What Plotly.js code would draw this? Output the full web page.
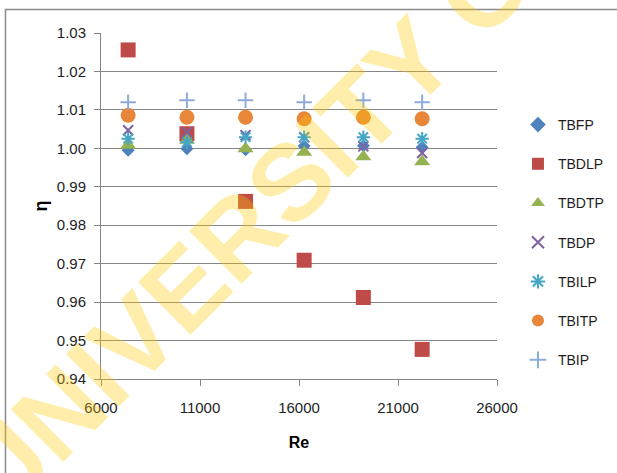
<!DOCTYPE html>
<html>
<head>
<meta charset="utf-8">
<script src="https://cdn.plot.ly/plotly-3.0.1.min.js"></script>
<style>
  html, body { margin: 0; padding: 0; background: #fff; overflow: hidden; }
  #wrap { position: relative; width: 617px; height: 473px; overflow: hidden; }
  #chart { width: 617px; height: 473px; }
  #stamp {
    position: absolute; left: -23px; top: 442px;
    font: bold 108px "Liberation Sans", Arial, sans-serif;
    line-height: 108px; white-space: nowrap;
    color: rgba(255, 204, 0, 0.33);
    transform-origin: 0 50%; transform: rotate(-45deg);
    pointer-events: none;
  }
</style>
</head>
<body>
<div id="wrap">
  <div id="chart"></div>
  <div id="stamp">UNIVERSITY OF</div>
</div>
<script>
// Reynolds numbers of the test runs
const Re = [7370, 10340, 13300, 16260, 19250, 22220];

// Efficiency index η for each insert configuration
const TBFP  = [0.9995, 0.9999, 0.9996, 1.0006, 1.0007, 1.0003];
const TBDLP = [1.0256, 1.0038, 0.9862, 0.9709, 0.9612, 0.9477];
const TBDTP = [1.0008, 1.0021, 0.9999, 0.9990, 0.9978, 0.9965];
const TBDP  = [1.0047, 1.0042, 1.0034, 1.0029, 1.0005, 0.9988];
const TBILP = [1.0025, 1.0016, 1.0029, 1.0029, 1.0029, 1.0025];
const TBITP = [1.0086, 1.0081, 1.0081, 1.0077, 1.0081, 1.0077];
const TBIP  = [1.0120, 1.0125, 1.0125, 1.0120, 1.0125, 1.0120];

const xTicks = [6000, 11000, 16000, 21000, 26000];
const yTicks = [0.94, 0.95, 0.96, 0.97, 0.98, 0.99, 1.00, 1.01, 1.02, 1.03];

const FONT = '"Liberation Sans", Arial, sans-serif';

const series = [
  { name: 'TBFP',  y: TBFP,  symbol: 'diamond',         size: 10, color: '#4F81BD' },
  { name: 'TBDLP', y: TBDLP, symbol: 'square',          size: 15, color: '#BE4B48' },
  { name: 'TBDTP', y: TBDTP, symbol: 'triangle-up',     size: 14, color: '#94B24F' },
  { name: 'TBDP',  y: TBDP,  symbol: 'x-thin-open',     size: 10, color: '#7F62A1', lw: 2 },
  { name: 'TBILP', y: TBILP, symbol: 'asterisk-open',   size: 11, color: '#44A6C4', lw: 2 },
  { name: 'TBITP', y: TBITP, symbol: 'circle',          size: 15, color: '#E8873A' },
  { name: 'TBIP',  y: TBIP,  symbol: 'cross-thin-open', size: 11, color: '#8EABD9', lw: 2 }
];

const traces = series.map(s => ({
  type: 'scatter',
  mode: 'markers',
  name: s.name,
  legendgroup: s.name,
  x: Re,
  y: s.y,
  marker: {
    symbol: s.symbol,
    size: s.size,
    color: s.color,
    line: s.lw ? { color: s.color, width: s.lw } : { width: 0 }
  }
}));

const gridColor = '#868686';

const layout = {
  width: 617,
  height: 473,
  margin: { l: 101, r: 120, t: 33, b: 94 },
  paper_bgcolor: '#ffffff',
  plot_bgcolor: '#ffffff',
  font: { family: FONT, size: 14, color: '#1e1e1e' },
  showlegend: true,
  legend: {
    xref: 'container', yref: 'container',
    x: 0.8395, xanchor: 'left',
    y: 0.7696, yanchor: 'top',
    maxheight: 400,
    itemsizing: 'constant',
    traceorder: 'grouped',
    tracegroupgap: 18,
    font: { family: FONT, size: 14, color: '#1e1e1e' },
    bgcolor: 'rgba(0,0,0,0)'
  },
  xaxis: {
    range: [6000, 26000],
    tickvals: xTicks,
    ticktext: xTicks.map(String),
    showgrid: false,
    zeroline: false,
    showline: true, linecolor: gridColor, linewidth: 1,
    ticks: 'outside', ticklen: 6, tickcolor: gridColor, tickwidth: 1,
    ticklabelstandoff: 9,
    tickfont: { family: FONT, size: 15, color: '#1e1e1e' },
    title: { text: '<b>Re</b>', font: { family: FONT, size: 16, color: '#000' }, standoff: 21 }
  },
  yaxis: {
    range: [0.94, 1.03],
    tickvals: yTicks,
    ticktext: yTicks.map(v => v.toFixed(2)),
    showgrid: true, gridcolor: gridColor, gridwidth: 1,
    zeroline: false,
    showline: true, linecolor: gridColor, linewidth: 1,
    ticks: 'outside', ticklen: 6, tickcolor: gridColor, tickwidth: 1,
    ticklabelstandoff: 5,
    tickfont: { family: FONT, size: 15, color: '#1e1e1e' },
    title: { text: '<b>η</b>', font: { family: FONT, size: 18, color: '#000' }, standoff: 4 }
  },
  shapes: [{
    type: 'rect', xref: 'paper', yref: 'paper',
    x0: -0.2412, x1: 1.32, y0: -0.3, y1: 1.068,
    line: { color: '#8a8a8a', width: 1.5 },
    fillcolor: 'rgba(0,0,0,0)', layer: 'below'
  }]
};

Plotly.newPlot('chart', traces, layout, { displayModeBar: false, staticPlot: true });
</script>
</body>
</html>
